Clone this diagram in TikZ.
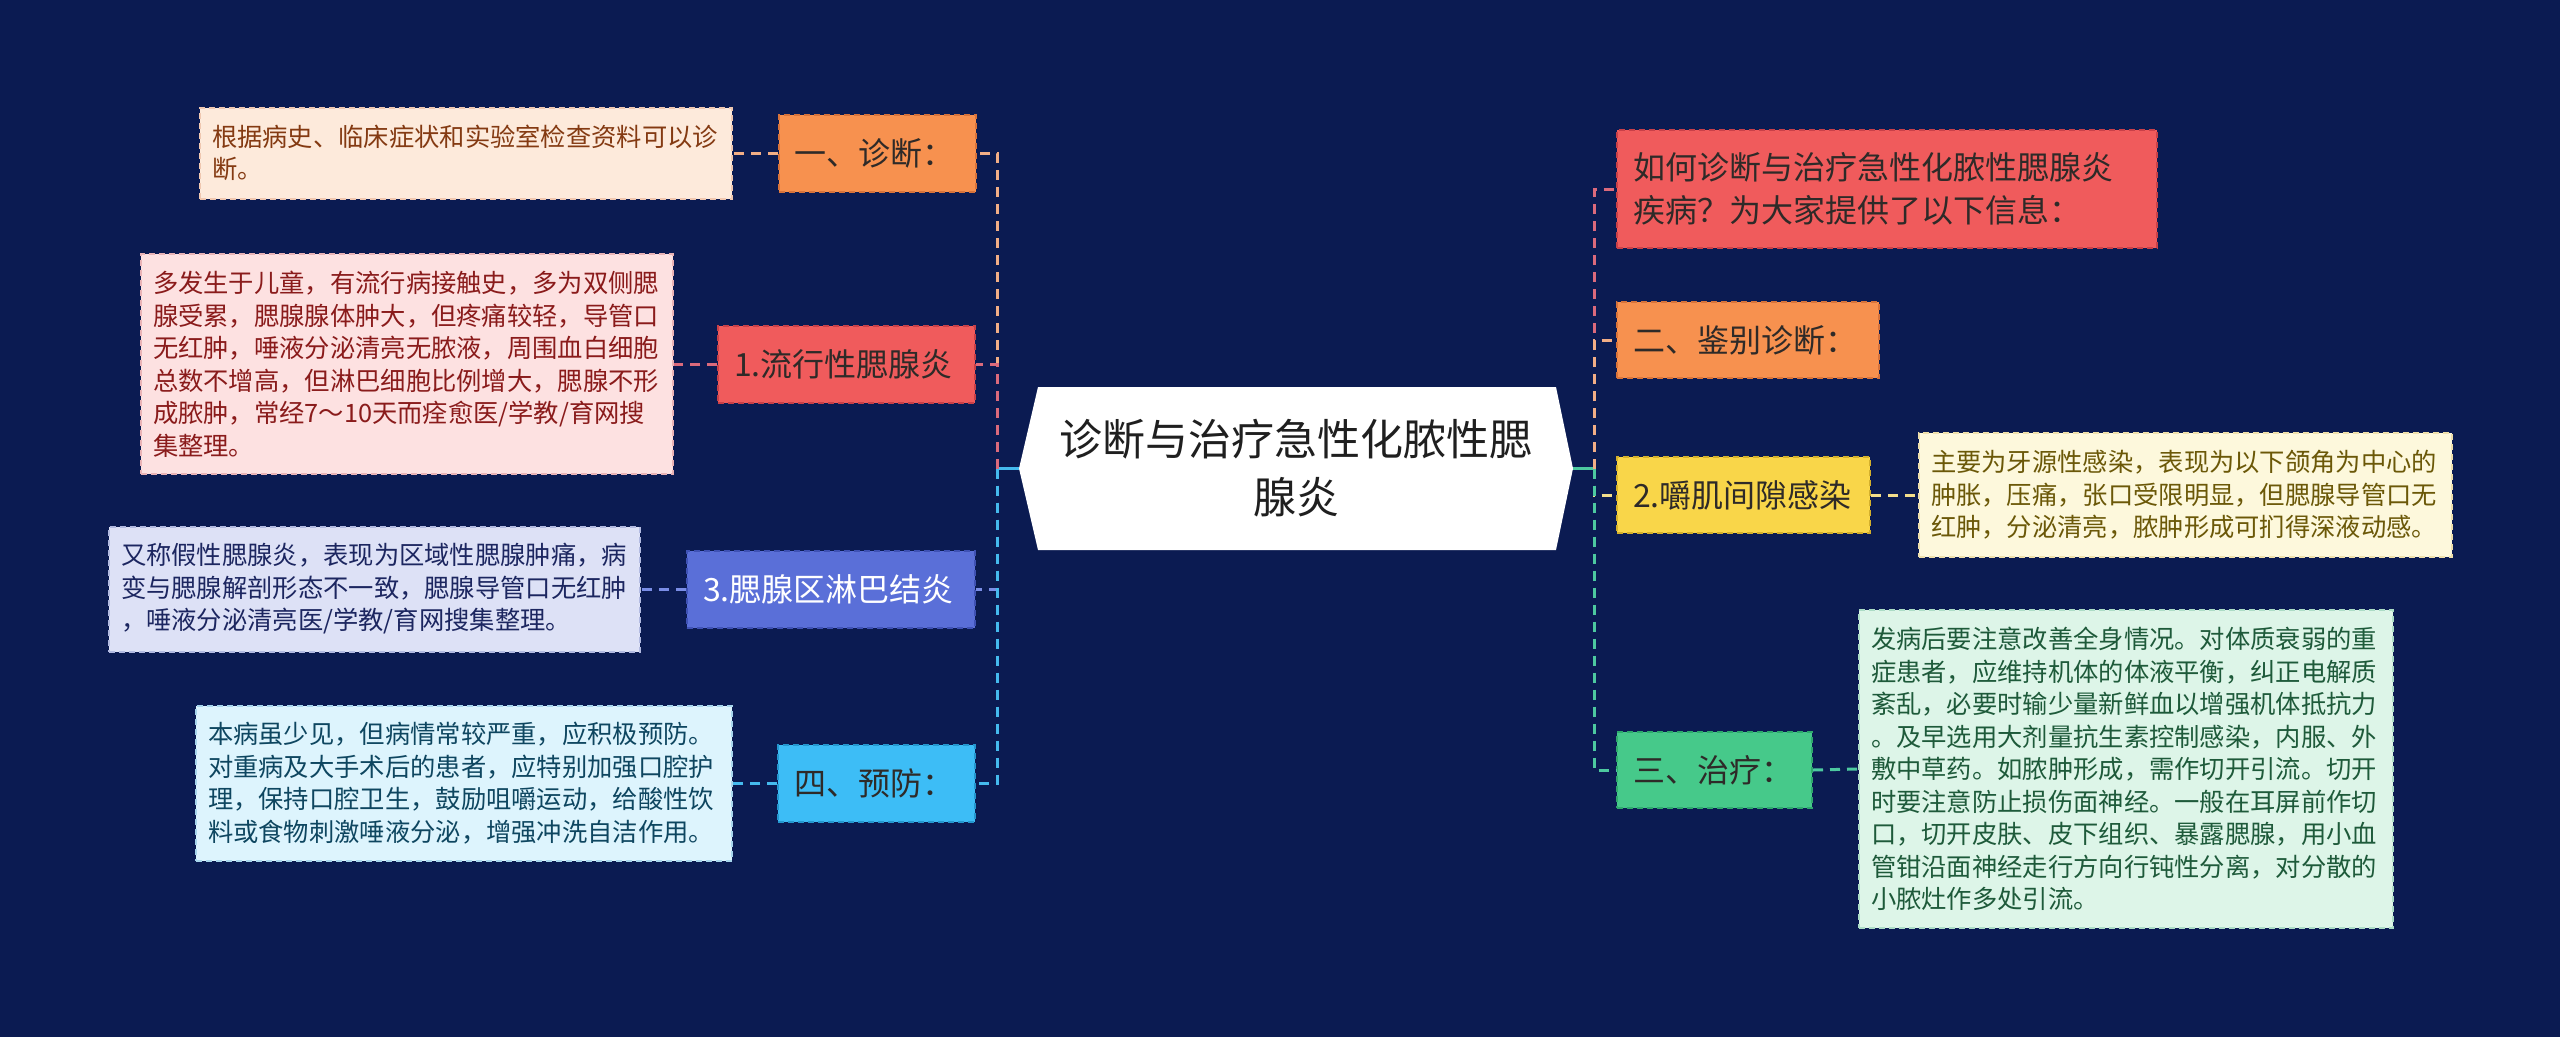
\documentclass[tikz,border=0pt]{standalone}
\usepackage{fontspec}
\setmainfont{Noto Sans CJK SC}
\definecolor{bg}{HTML}{0B1B52}
\definecolor{cOr}{HTML}{F7914F}\definecolor{cOrD}{HTML}{D8733A}\definecolor{cOrL}{HTML}{F2AE86}
\definecolor{cOrF}{HTML}{FDEADB}\definecolor{cOrT}{HTML}{843A12}
\definecolor{cRd}{HTML}{F05B5C}\definecolor{cRdD}{HTML}{C94048}\definecolor{cRdL}{HTML}{DB6A7C}
\definecolor{cRdF}{HTML}{FDE1E1}\definecolor{cRdT}{HTML}{8A1B1B}
\definecolor{cBu}{HTML}{5A6FD8}\definecolor{cBuD}{HTML}{3F52B5}\definecolor{cBuL}{HTML}{7A8DE6}
\definecolor{cBuF}{HTML}{DDE1F6}\definecolor{cBuT}{HTML}{1C2660}
\definecolor{cLb}{HTML}{3DBDF6}\definecolor{cLbD}{HTML}{2497CF}\definecolor{cLbL}{HTML}{45BAEE}
\definecolor{cLbF}{HTML}{DDF4FD}\definecolor{cLbT}{HTML}{0E4660}
\definecolor{cYe}{HTML}{F9D649}\definecolor{cYeD}{HTML}{D4B02C}\definecolor{cYeL}{HTML}{F3DE8C}
\definecolor{cYeF}{HTML}{FDF8DC}\definecolor{cYeT}{HTML}{6B5808}
\definecolor{cGr}{HTML}{46C98A}\definecolor{cGrD}{HTML}{2EA86D}\definecolor{cGrL}{HTML}{4DC9A0}
\definecolor{cGrF}{HTML}{DDF5E8}\definecolor{cGrT}{HTML}{1E5A3A}
\definecolor{cTx}{HTML}{2E2A28}
\tikzset{
  box/.style={draw, dash pattern=on 6pt off 4pt, line width=2pt, inner xsep=16pt, inner ysep=0pt,
    align=left, anchor=center, text=cTx, font=\fontsize{32}{43}\selectfont},
  leaf/.style={draw, dash pattern=on 6pt off 4pt, line width=2pt, inner xsep=12pt, inner ysep=0pt,
    align=left, anchor=center, font=\fontsize{25.3}{32.5}\selectfont},
  conn/.style={line width=3pt, dash pattern=on 10pt off 7pt},
  trunk/.style={line width=3pt}
}
\begin{document}
\begin{tikzpicture}[x=1pt,y=-1pt]
\fill[bg] (0,0) rectangle (2560,1037);
\useasboundingbox (0,0) rectangle (2560,1037);

% central topic
\fill[white] (1019,468.5) -- (1038,387) -- (1556,387) -- (1573,468.5) -- (1556,550) -- (1038,550) -- cycle;
\node[minimum width=554pt, minimum height=163pt, inner sep=0pt, align=center, text=black!88,
  font=\fontsize{43}{58}\selectfont] (center) at (1296,468.5) {诊断与治疗急性化脓性腮\\腺炎};

\coordinate (lS) at (997,468.5);
\coordinate (rS) at (1594,468.5);

% left branches
\node[box, fill=cOr, draw=cOrD, text width=165pt, minimum height=77pt] (d1) at (877,153) {一、诊断：};
\node[leaf, fill=cOrF, draw=cOrD!40, text=cOrT, text width=508pt, minimum height=91pt] (l1) at (466,153)
  {根据病史、临床症状和实验室检查资料可以诊\\断。};

\node[box, fill=cRd, draw=cRdD, text width=225pt, minimum height=77pt] (d2) at (846.5,364) {1.流行性腮腺炎};
\node[leaf, fill=cRdF, draw=cRdD!40, text=cRdT, text width=508pt, minimum height=220pt] (l2) at (407,364)
  {多发生于儿童，有流行病接触史，多为双侧腮\\腺受累，腮腺腺体肿大，但疼痛较轻，导管口\\无红肿，唾液分泌清亮无脓液，周围血白细胞\\总数不增高，但淋巴细胞比例增大，腮腺不形\\成脓肿，常经7～10天而痊愈医/学教/育网搜\\集整理。};

\node[box, fill=cBu, draw=cBuD, text=white, text width=256pt, minimum height=77pt] (d3) at (831,589) {3.腮腺区淋巴结炎};
\node[leaf, fill=cBuF, draw=cBuD!40, text=cBuT, text width=507pt, minimum height=125pt] (l3) at (374.5,589)
  {又称假性腮腺炎，表现为区域性腮腺肿痛，病\\变与腮腺解剖形态不一致，腮腺导管口无红肿\\，唾液分泌清亮医/学教/育网搜集整理。};

\node[box, fill=cLb, draw=cLbD, text width=165pt, minimum height=77pt] (d4) at (876.5,783) {四、预防：};
\node[leaf, fill=cLbF, draw=cLbD!40, text=cLbT, text width=512pt, minimum height=155pt] (l4) at (464,783)
  {本病虽少见，但病情常较严重，应积极预防。\\对重病及大手术后的患者，应特别加强口腔护\\理，保持口腔卫生，鼓励咀嚼运动，给酸性饮\\料或食物刺激唾液分泌，增强冲洗自洁作用。};

% right branches
\node[box, fill=cRd, draw=cRdD, text width=508pt, minimum height=118pt] (r1) at (1887,189)
  {如何诊断与治疗急性化脓性腮腺炎\\疾病？为大家提供了以下信息：};
\node[box, fill=cOr, draw=cOrD, text width=230pt, minimum height=76pt] (r2) at (1748,340) {二、鉴别诊断：};
\node[box, fill=cYe, draw=cYeD, text width=221pt, minimum height=76pt] (r3) at (1743.5,495) {2.嚼肌间隙感染};
\node[leaf, fill=cYeF, draw=cYeD!40, text=cYeT, text width=509pt, minimum height=124pt] (rl3) at (2185.5,495)
  {主要为牙源性感染，表现为以下颌角为中心的\\肿胀，压痛，张口受限明显，但腮腺导管口无\\红肿，分泌清亮，脓肿形成可扪得深液动感。};
\node[box, fill=cGr, draw=cGrD, text width=163pt, minimum height=76pt] (r4) at (1714.5,770) {三、治疗：};
\node[leaf, fill=cGrF, draw=cGrD!40, text=cGrT, text width=510pt, minimum height=318pt] (rl4) at (2126,769)
  {发病后要注意改善全身情况。对体质衰弱的重\\症患者，应维持机体的体液平衡，纠正电解质\\紊乱，必要时输少量新鲜血以增强机体抵抗力\\。及早选用大剂量抗生素控制感染，内服、外\\敷中草药。如脓肿形成，需作切开引流。切开\\时要注意防止损伤面神经。一般在耳屏前作切\\口，切开皮肤、皮下组织、暴露腮腺，用小血\\管钳沿面神经走行方向行钝性分离，对分散的\\小脓灶作多处引流。};

% connectors: centre to spines
\draw[trunk, cLbL] (center.west) -- (lS);
\draw[trunk, cGrL] (center.east) -- (rS);
% left spine
\draw[conn, cOrL] (lS) |- (d1.east);
\draw[conn, cRdL] (lS) |- (d2.east);
\draw[conn, cBuL] (lS) |- (d3.east);
\draw[conn, cLbL] (lS) |- (d4.east);
% right spine
\draw[conn, cRdL] (rS) |- (r1.west);
\draw[conn, cOrL] (rS) |- (r2.west);
\draw[conn, cYeL] (rS) |- (r3.west);
\draw[conn, cGrL] (rS) |- (r4.west);
% leaves
\draw[conn, cOrL] (d1.west) -- (l1.east);
\draw[conn, cRdL] (d2.west) -- (l2.east);
\draw[conn, cBuL] (d3.west) -- (l3.east);
\draw[conn, cLbL] (d4.west) -- (l4.east);
\draw[conn, cYeL] (r3.east) -- (rl3.west);
\draw[conn, cGrL] (r4.east) -- (rl4.west);
\end{tikzpicture}
\end{document}
